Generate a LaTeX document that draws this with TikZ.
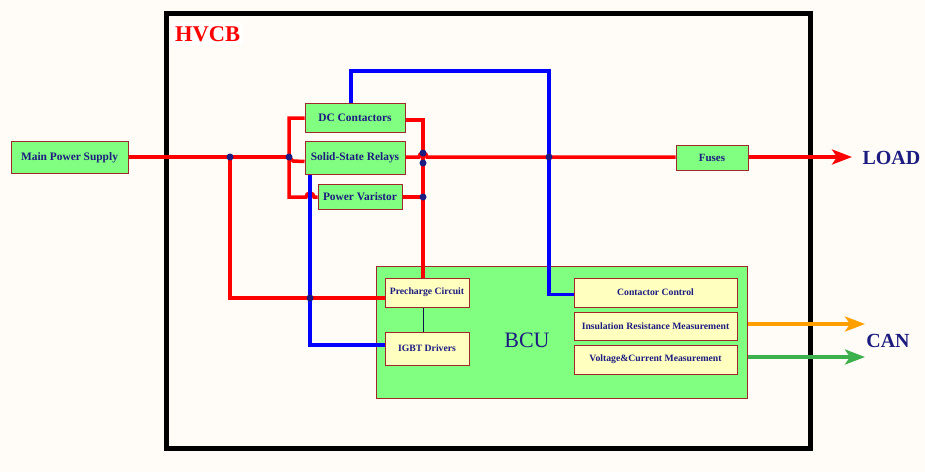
\documentclass[tikz,border=0pt]{standalone}
\usepackage{fontspec}
\setmainfont{Liberation Serif}
\usetikzlibrary{arrows.meta}
\definecolor{bg}{HTML}{FFFBF6}
\definecolor{boxg}{HTML}{80FF80}
\definecolor{boxy}{HTML}{FFFFC0}
\definecolor{bord}{HTML}{A02828}
\definecolor{navy}{HTML}{1C1C80}
\definecolor{wred}{HTML}{FF0000}
\definecolor{wblue}{HTML}{0000FF}
\definecolor{orng}{HTML}{FFA000}
\definecolor{grn}{HTML}{3CB04C}
\begin{document}
\begin{tikzpicture}[x=1pt,y=-1pt,
 gbox/.style={draw=bord,fill=boxg,line width=1pt,inner sep=0pt,font=\bfseries\fontsize{11.4}{13}\selectfont,text=navy},
 ybox/.style={draw=bord,fill=boxy,line width=1pt,inner sep=0pt,font=\bfseries\fontsize{9.7}{11}\selectfont,text=navy},
 rw/.style={draw=wred,line width=3.5pt},
 bw/.style={draw=wblue,line width=3.5pt},
 jdot/.style={fill=navy},
 tip/.style={-{Stealth[length=20pt,width=15pt,inset=5pt]}},
 big/.style={font=\bfseries\fontsize{20}{24}\selectfont,text=navy}]
\fill[bg] (0,0) rectangle (925,472);
\useasboundingbox (0,0) rectangle (925,472);
\draw[line width=5pt] (166,13) rectangle (810,448);
\node[fill=white,inner sep=3pt,anchor=west,font=\bfseries\fontsize{22.5}{25}\selectfont,text=red] (hvcb) at (172,34) {HVCB};

% nodes
\node[gbox,minimum width=117pt,minimum height=32pt] (mps) at (69.5,157.5) {Main Power Supply};
\node[gbox,minimum width=100pt,minimum height=29pt] (dcc) at (355,117.5) {DC Contactors};
\node[gbox,minimum width=100pt,minimum height=33pt] (ssr) at (355,157.5) {Solid-State Relays};
\node[gbox,minimum width=84pt,minimum height=25pt] (pv) at (360,196.5) {Power Varistor};
\node[gbox,minimum width=72pt,minimum height=25pt,font=\bfseries\fontsize{11}{12}\selectfont] (fuses) at (712,157.5) {Fuses};
\node[draw=bord,fill=boxg,line width=1pt,minimum width=371pt,minimum height=132pt] (bcu) at (561.5,332) {};
\node[font=\fontsize{22}{24}\selectfont,text=navy] (bcut) at (527,340) {BCU};
\node[ybox,minimum width=84pt,minimum height=29pt] (pre) at (427,292.5) {Precharge Circuit};
\node[ybox,minimum width=84pt,minimum height=33pt] (igbt) at (427,348.5) {IGBT Drivers};
\node[ybox,minimum width=163pt,minimum height=29pt] (cc) at (655.5,292.5) {Contactor Control};
\node[ybox,minimum width=163pt,minimum height=28pt] (irm) at (655.5,326) {Insulation Resistance Measurement};
\node[ybox,minimum width=163pt,minimum height=29pt] (vcm) at (655.5,359.5) {Voltage\&Current Measurement};
\node[big,anchor=west] (load) at (859,158) {LOAD};
\node[big] (can) at (888,341) {CAN};

% junction coordinates
\coordinate (j1) at (230,157);
\coordinate (j2) at (289,157);
\coordinate (lt) at (289,118);
\coordinate (lb) at (289,197);
\coordinate (rt) at (423,120);
\coordinate (rv) at (423,197);
\coordinate (bx) at (549,157);
\coordinate (bl) at (310,298);
\coordinate (loadtip) at (852,157);

% red wiring
\draw[rw] (mps.east |- j2) -- (j2);
\draw[rw] (j2) -- ++(4,4) -- ([yshift=-4pt]ssr.west);
\draw[rw] (dcc.west |- lt) -- (lt) -- (lb) -- (306,197) arc[start angle=180,end angle=360,radius=4] -- (pv.west |- lb);
\draw[rw] (dcc.east |- rt) -- (rt) -- (rt |- pre.north);
\draw[rw] (pv.east |- rv) -- (rv);
\draw[rw] (ssr.east |- j2) -- (419,157) arc[start angle=180,end angle=360,radius=4] -- (bx) -- (fuses.west |- bx);
\draw[rw,tip] (fuses.east |- bx) -- (loadtip);
\draw[rw] (j1) |- (pre.west |- bl);

% blue wiring
\draw[bw] ([xshift=-4pt]dcc.north) |- (549,71) -- (bx) |- ([yshift=-2pt]cc.west);
\draw[bw] (ssr.south -| bl) -- (bl) |- ([yshift=3.5pt]igbt.west);

% thin link
\draw[navy!60!black,line width=0.8pt] ([xshift=-4pt]pre.south) -- ([xshift=-4pt]igbt.north);

% CAN arrows
\draw[orng,line width=3.5pt,tip] ([yshift=2pt]bcu.east |- irm.east) -- (865,324);
\draw[grn,line width=3.5pt,tip] ([yshift=2.5pt]bcu.east |- vcm.east) -- (865,357);

% junction dots
\foreach \p in {(j1),(j2),(423,153),(423,163),(rv),(bx),(bl)}
  \fill[jdot] \p circle (3.5);
\end{tikzpicture}
\end{document}
